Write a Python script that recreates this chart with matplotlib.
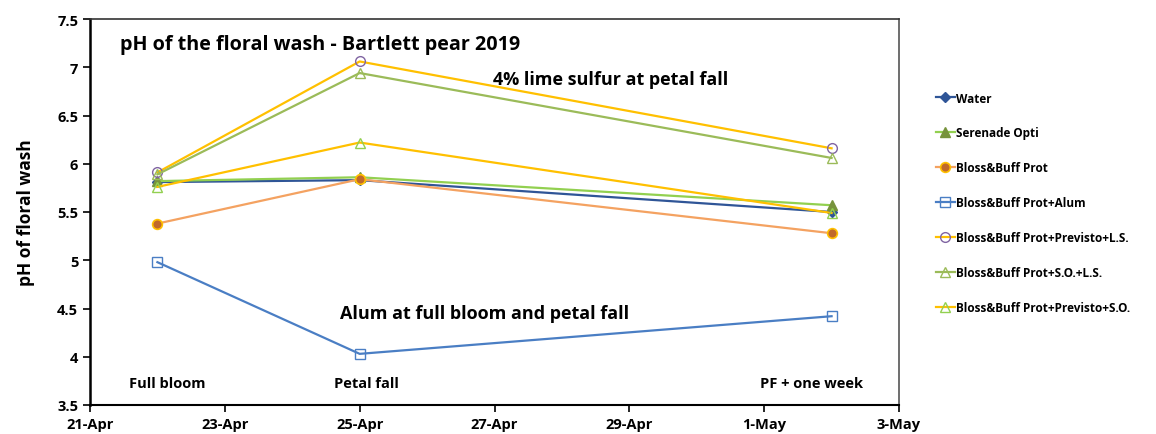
import matplotlib
matplotlib.use("Agg")
import matplotlib.pyplot as plt
import matplotlib.dates as mdates
import numpy as np
from datetime import datetime

plt.rcParams['font.family'] = ['Open Sans', 'DejaVu Sans']
plt.rcParams['font.weight'] = 'bold'

dates = [datetime(2019, 4, 22), datetime(2019, 4, 25), datetime(2019, 5, 2)]

water = [5.81, 5.83, 5.50]
serenade = [5.82, 5.86, 5.57]
bb_prot = [5.38, 5.84, 5.28]
bb_alum = [4.98, 4.03, 4.42]
bb_prev_ls = [5.91, 7.06, 6.16]
bb_so_ls = [5.89, 6.94, 6.06]
bb_prev_so = [5.76, 6.22, 5.49]

labels = ["Water", "Serenade Opti", "Bloss&Buff Prot", "Bloss&Buff Prot+Alum",
          "Bloss&Buff Prot+Previsto+L.S.", "Bloss&Buff Prot+S.O.+L.S.",
          "Bloss&Buff Prot+Previsto+S.O."]

fig = plt.figure(figsize=(11.56, 4.35), dpi=100)
ax = fig.add_axes([90/1156, 29/435, 809/1156, 386/435])

lw = 1.6
ax.plot(dates, water, color='#2F5597', lw=lw, marker='D', ms=5,
        mfc='#2F5597', mec='#2F5597', label=labels[0])
ax.plot(dates, serenade, color='#92D050', lw=lw, marker='^', ms=7,
        mfc='#77933C', mec='#77933C', label=labels[1])
ax.plot(dates, bb_prot, color='#F4A261', lw=lw, marker='o', ms=7,
        mfc='#C0692B', mec='#FFC000', mew=1.2, label=labels[2])
ax.plot(dates, bb_alum, color='#4A7EC4', lw=lw, marker='s', ms=7,
        mfc='none', mec='#4A7EC4', mew=1.0, label=labels[3])
ax.plot(dates, bb_prev_ls, color='#FFC000', lw=lw, marker='o', ms=7,
        mfc='none', mec='#8064A2', mew=1.0, label=labels[4])
ax.plot(dates, bb_so_ls, color='#9BBB59', lw=lw, marker='^', ms=7,
        mfc='none', mec='#9BBB59', mew=1.0, label=labels[5])
ax.plot(dates, bb_prev_so, color='#FFC000', lw=lw, marker='^', ms=7,
        mfc='none', mec='#92D050', mew=1.0, label=labels[6])

ax.set_xlim(datetime(2019, 4, 21), datetime(2019, 5, 3))
ax.set_ylim(3.5, 7.5)
ax.set_yticks(np.arange(3.5, 7.51, 0.5))
ax.set_yticklabels(['3.5', '4', '4.5', '5', '5.5', '6', '6.5', '7', '7.5'])
ax.set_xticks([datetime(2019, 4, 21), datetime(2019, 4, 23), datetime(2019, 4, 25),
               datetime(2019, 4, 27), datetime(2019, 4, 29), datetime(2019, 5, 1),
               datetime(2019, 5, 3)])
ax.xaxis.set_major_formatter(mdates.DateFormatter('%-d-%b'))
ax.tick_params(axis='both', direction='out', length=5, width=1.2, labelsize=10.5)
for lab in ax.get_xticklabels() + ax.get_yticklabels():
    lab.set_fontweight('bold')

ax.spines['left'].set_linewidth(1.8)
ax.spines['bottom'].set_linewidth(1.5)
ax.spines['top'].set_linewidth(1.2)
ax.spines['right'].set_linewidth(1.2)
ax.spines['top'].set_color('#333333')
ax.spines['right'].set_color('#555555')

ax.set_ylabel('pH of floral wash', fontsize=12.5, fontweight='bold', labelpad=16)

ax.text(0.037, 0.935, 'pH of the floral wash - Bartlett pear 2019', transform=ax.transAxes,
        fontsize=14.2, fontweight='bold', va='center', ha='left')
ax.text(0.498, 0.845, '4% lime sulfur at petal fall', transform=ax.transAxes,
        fontsize=13, fontweight='bold', va='center', ha='left')
ax.text(0.309, 0.238, 'Alum at full bloom and petal fall', transform=ax.transAxes,
        fontsize=13, fontweight='bold', va='center', ha='left')
ax.text(0.048, 0.057, 'Full bloom', transform=ax.transAxes,
        fontsize=10.5, fontweight='bold', va='center', ha='left')
ax.text(0.302, 0.057, 'Petal fall', transform=ax.transAxes,
        fontsize=10.5, fontweight='bold', va='center', ha='left')
ax.text(0.828, 0.057, 'PF + one week', transform=ax.transAxes,
        fontsize=10.5, fontweight='bold', va='center', ha='left')

leg = fig.legend(loc='upper left', bbox_to_anchor=(925/1156, 1 - 82/435), frameon=False,
                 handlelength=1.6, handletextpad=0.1, labelspacing=1.85,
                 prop={'size': 8.5, 'weight': 'bold'})

fig.savefig('out.png', dpi=100)
